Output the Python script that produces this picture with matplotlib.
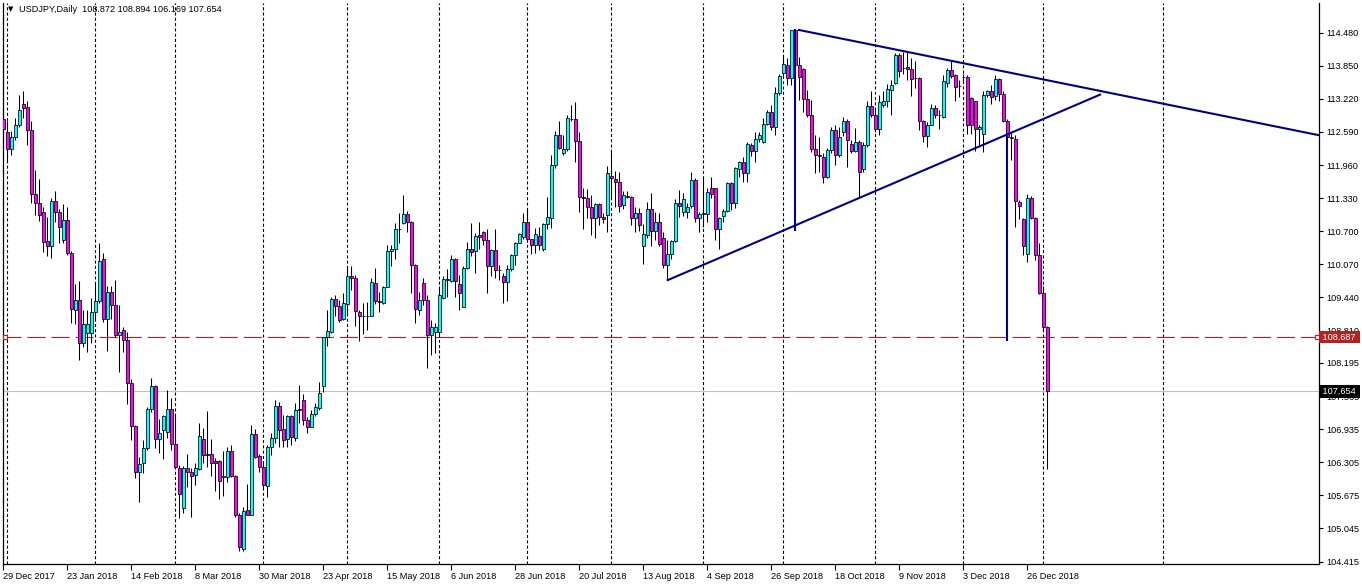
import matplotlib
matplotlib.use("Agg")
import matplotlib.pyplot as plt
import matplotlib.transforms as mtransforms
import numpy as np

# USDJPY daily candles, one per bar (bar 0 = 29 Dec 2017)
opens = [
    112.83, 112.58, 112.26, 112.49, 112.72, 113.13, 113.06, 112.62, 111.40, 111.23,
    111.06, 110.51, 110.41, 111.27, 111.07, 110.53, 110.91, 110.28, 109.20, 109.39,
    108.57, 108.76, 108.76, 109.16, 109.37, 110.17, 109.04, 109.54, 109.29, 108.72,
    108.83, 108.63, 107.81, 106.99, 106.11, 106.30, 106.57, 107.31, 107.75, 106.74,
    106.91, 106.89, 107.31, 106.65, 106.20, 105.43, 106.19, 106.11, 106.06, 106.17,
    106.74, 106.46, 106.46, 106.33, 106.33, 106.02, 106.02, 106.51, 106.05, 105.30,
    104.65, 105.39, 105.31, 106.84, 106.42, 106.21, 105.86, 106.59, 106.76, 107.38,
    106.93, 106.74, 107.19, 106.76, 107.32, 107.49, 107.10, 106.98, 107.22, 107.33,
    107.76, 108.68, 108.79, 109.42, 109.28, 109.04, 109.31, 109.84, 109.82, 109.16,
    109.09, 109.08, 109.09, 109.71, 109.37, 109.33, 109.63, 110.32, 110.37, 110.74,
    110.85, 111.02, 110.87, 110.05, 109.21, 109.71, 109.39, 108.73, 108.79, 108.78,
    109.43, 109.79, 109.75, 110.17, 109.69, 109.26, 110.01, 110.36, 110.32, 110.63,
    110.68, 110.53, 110.04, 110.34, 109.96, 109.85, 109.73, 109.99, 110.24, 110.47,
    110.60, 110.88, 110.55, 110.44, 110.61, 110.37, 110.83, 110.96, 111.97, 112.53,
    112.19, 112.26, 112.84, 112.83, 112.42, 111.36, 111.33, 111.17, 110.96, 111.21,
    110.98, 111.00, 111.76, 111.69, 111.63, 111.20, 111.38, 111.36, 110.96, 111.04,
    110.42, 110.62, 111.12, 110.71, 110.87, 110.58, 110.05, 110.26, 110.51, 111.24,
    111.06, 111.06, 111.18, 111.67, 110.95, 111.03, 111.02, 111.52, 111.52, 110.74,
    110.99, 111.09, 111.61, 111.23, 111.88, 112.01, 111.81, 112.34, 112.23, 112.46,
    112.40, 112.74, 112.96, 112.69, 113.34, 113.72, 113.86, 113.61, 114.52, 113.86,
    113.79, 113.22, 112.92, 112.26, 112.15, 112.12, 111.74, 112.25, 112.63, 112.15,
    112.58, 112.79, 112.36, 112.23, 112.39, 111.88, 112.34, 113.08, 112.91, 112.64,
    113.10, 113.18, 113.39, 113.53, 114.05, 113.81, 113.82, 113.78, 113.61, 113.62,
    112.79, 112.52, 112.73, 113.04, 112.92, 112.88, 113.53, 113.77, 113.67, 113.47,
    113.63, 113.63, 113.23, 113.17, 112.64, 112.56, 113.30, 113.37, 113.27, 113.59,
    113.32, 112.80, 112.49, 112.45, 111.26, 110.93, 110.26, 111.34, 110.96, 110.25,
    109.52, 108.872,
]
highs = [
    112.94, 112.79, 112.60, 112.85, 113.29, 113.37, 113.17, 112.79, 111.87, 111.70,
    111.17, 110.98, 111.33, 111.47, 111.12, 111.21, 111.16, 110.33, 109.69, 109.75,
    109.20, 109.20, 109.43, 109.74, 110.47, 110.28, 109.65, 109.65, 109.77, 109.30,
    108.87, 108.78, 107.89, 107.01, 106.41, 106.73, 107.36, 107.90, 107.77, 107.12,
    107.20, 107.68, 107.52, 107.20, 106.25, 106.24, 106.46, 106.20, 106.30, 107.05,
    106.96, 107.28, 106.75, 106.39, 106.35, 106.52, 106.59, 106.63, 106.06, 105.33,
    105.46, 105.89, 107.01, 106.93, 106.47, 106.32, 106.63, 106.86, 107.49, 107.46,
    107.20, 107.20, 107.21, 107.43, 107.77, 107.60, 107.17, 107.30, 107.43, 107.84,
    108.69, 109.20, 109.44, 109.49, 109.39, 109.53, 110.01, 110.03, 109.87, 109.20,
    109.33, 109.35, 109.82, 110.01, 109.55, 109.65, 110.44, 110.43, 110.86, 111.05,
    111.39, 111.08, 110.90, 110.07, 109.55, 109.82, 109.48, 109.01, 108.95, 109.65,
    109.84, 109.99, 110.25, 110.20, 109.86, 110.03, 110.50, 110.85, 110.66, 110.88,
    110.71, 110.74, 110.37, 110.74, 110.06, 109.90, 110.06, 110.27, 110.50, 110.67,
    111.05, 111.12, 110.56, 110.76, 110.79, 110.85, 111.36, 112.16, 112.61, 112.80,
    112.53, 112.91, 113.11, 113.16, 112.59, 111.53, 111.50, 111.39, 111.23, 111.23,
    111.04, 111.95, 112.21, 111.85, 111.83, 111.47, 111.47, 111.38, 111.17, 111.15,
    110.83, 111.26, 111.42, 111.06, 111.04, 110.69, 110.53, 110.53, 111.31, 111.48,
    111.42, 111.23, 111.83, 111.72, 111.07, 111.74, 111.53, 111.74, 111.53, 110.98,
    111.12, 111.64, 111.63, 111.93, 112.04, 112.12, 112.39, 112.37, 112.58, 112.58,
    112.85, 113.01, 113.11, 113.45, 113.69, 114.05, 113.99, 114.53, 114.55, 114.02,
    113.80, 113.39, 113.20, 112.53, 112.50, 112.18, 112.28, 112.69, 112.72, 112.69,
    112.88, 112.83, 112.44, 112.66, 112.44, 112.40, 113.17, 113.36, 113.01, 113.29,
    113.36, 113.50, 113.58, 114.09, 114.09, 114.12, 114.12, 113.99, 113.93, 113.64,
    112.82, 112.78, 113.13, 113.10, 113.01, 113.67, 113.81, 113.96, 113.69, 113.58,
    113.70, 113.67, 113.26, 113.18, 112.72, 113.36, 113.39, 113.48, 113.67, 113.62,
    113.36, 112.83, 112.59, 112.53, 111.29, 110.96, 111.40, 111.38, 110.98, 110.47,
    109.65, 108.894,
]
lows = [
    112.44, 112.02, 112.15, 112.44, 112.69, 112.86, 112.34, 111.23, 111.01, 110.90,
    110.31, 110.22, 110.19, 110.88, 110.47, 110.47, 110.24, 108.95, 108.93, 108.25,
    108.49, 108.40, 108.57, 109.04, 109.33, 108.98, 108.43, 109.04, 108.68, 108.03,
    108.41, 107.41, 106.73, 106.01, 105.54, 106.10, 106.54, 107.27, 106.58, 106.49,
    106.36, 106.77, 106.54, 106.19, 105.24, 105.33, 105.84, 105.27, 105.88, 106.15,
    106.30, 106.22, 106.05, 105.76, 105.60, 105.67, 105.92, 106.03, 105.26, 104.62,
    104.62, 105.30, 105.30, 106.38, 106.11, 105.81, 105.65, 106.45, 106.67, 106.60,
    106.60, 106.60, 106.64, 106.70, 107.05, 107.01, 106.87, 106.97, 107.18, 107.30,
    107.65, 108.52, 108.77, 109.08, 108.97, 109.01, 109.14, 109.58, 108.90, 108.62,
    108.74, 108.82, 109.09, 109.31, 109.16, 109.31, 109.63, 110.04, 110.18, 110.47,
    110.83, 110.69, 109.53, 108.95, 109.11, 109.30, 108.09, 108.35, 108.38, 108.69,
    109.41, 109.45, 109.74, 109.45, 109.20, 109.26, 109.99, 110.22, 109.90, 110.36,
    110.44, 109.53, 109.85, 109.82, 109.77, 109.34, 109.37, 109.95, 110.06, 110.47,
    110.55, 110.50, 110.26, 110.28, 110.34, 110.33, 110.74, 110.76, 111.90, 112.26,
    112.16, 112.23, 112.79, 112.02, 111.07, 110.74, 110.95, 110.63, 110.57, 110.82,
    110.86, 110.69, 111.34, 111.17, 111.07, 111.12, 111.33, 110.82, 110.69, 110.70,
    110.08, 110.57, 110.41, 110.53, 110.41, 110.01, 109.77, 110.17, 110.50, 110.98,
    110.99, 110.95, 111.15, 110.88, 110.68, 110.79, 110.88, 111.33, 110.53, 110.37,
    110.88, 111.06, 111.10, 111.14, 111.74, 111.64, 111.64, 112.14, 112.02, 112.40,
    112.37, 112.72, 112.63, 112.53, 113.29, 113.65, 113.48, 113.48, 113.82, 113.20,
    112.97, 112.88, 112.21, 111.81, 111.83, 111.61, 111.71, 112.18, 111.96, 112.12,
    112.52, 111.93, 112.18, 112.21, 111.36, 111.83, 112.31, 112.88, 112.59, 112.53,
    113.07, 113.07, 112.91, 113.51, 113.64, 113.70, 113.58, 113.28, 113.42, 112.63,
    112.40, 112.30, 112.72, 112.86, 112.65, 112.86, 113.45, 113.61, 113.17, 113.26,
    113.55, 112.56, 112.56, 112.23, 112.34, 112.21, 113.26, 113.13, 113.20, 113.17,
    112.78, 112.47, 112.06, 110.79, 110.93, 110.25, 110.12, 110.94, 110.15, 109.50,
    108.84, 106.169,
]
closes = [
    112.65, 112.26, 112.49, 112.72, 113.00, 113.05, 112.62, 111.40, 111.23, 111.00,
    110.49, 110.41, 111.27, 111.07, 110.79, 110.91, 110.28, 109.22, 109.39, 108.57,
    108.93, 108.93, 109.16, 109.37, 110.13, 109.04, 109.54, 109.29, 108.72, 108.78,
    108.63, 107.81, 106.99, 106.11, 106.27, 106.57, 107.31, 107.75, 106.74, 106.87,
    107.18, 107.31, 106.65, 106.21, 105.71, 106.19, 106.11, 106.05, 106.19, 106.80,
    106.44, 106.44, 106.30, 106.30, 105.94, 106.04, 106.51, 106.05, 105.30, 104.70,
    105.38, 105.31, 106.84, 106.41, 106.22, 105.87, 106.60, 106.76, 107.38, 106.91,
    106.73, 107.18, 106.79, 107.30, 107.29, 107.11, 106.98, 107.22, 107.35, 107.62,
    108.68, 108.80, 109.42, 109.28, 109.02, 109.33, 109.84, 109.82, 109.18, 109.09,
    109.08, 109.09, 109.73, 109.37, 109.35, 109.63, 110.32, 110.37, 110.74, 110.75,
    111.02, 110.87, 110.05, 109.23, 109.39, 109.39, 108.73, 108.88, 108.88, 109.48,
    109.80, 109.77, 110.17, 109.76, 109.52, 110.01, 110.36, 110.31, 110.61, 110.60,
    110.53, 110.04, 110.34, 109.96, 109.96, 109.73, 109.99, 110.24, 110.48, 110.65,
    110.88, 110.55, 110.44, 110.64, 110.43, 110.83, 110.97, 111.97, 112.53, 112.29,
    112.26, 112.85, 112.83, 112.42, 111.36, 111.33, 111.17, 110.95, 111.21, 110.98,
    110.93, 111.80, 111.71, 111.63, 111.19, 111.39, 111.36, 110.95, 111.04, 110.82,
    110.64, 111.12, 110.71, 110.87, 110.45, 110.05, 110.26, 110.52, 111.24, 111.19,
    111.31, 111.17, 111.67, 110.95, 111.02, 111.04, 111.44, 111.40, 110.74, 110.96,
    111.09, 111.61, 111.23, 111.91, 112.01, 111.81, 112.36, 112.23, 112.46, 112.53,
    112.75, 112.96, 112.69, 113.34, 113.66, 113.89, 113.61, 114.52, 113.86, 113.64,
    113.22, 112.92, 112.26, 112.15, 112.14, 111.74, 112.25, 112.63, 112.16, 112.50,
    112.79, 112.44, 112.23, 112.39, 111.83, 112.34, 113.08, 112.91, 112.64, 113.15,
    113.18, 113.41, 113.48, 114.05, 113.74, 113.81, 113.78, 113.59, 113.61, 112.79,
    112.52, 112.73, 113.04, 112.91, 112.92, 113.56, 113.77, 113.66, 113.45, 113.47,
    113.63, 112.73, 112.72, 112.64, 112.69, 113.30, 113.36, 113.26, 113.59, 113.32,
    112.80, 112.50, 112.47, 111.28, 111.18, 110.41, 111.34, 110.96, 110.25, 109.52,
    108.87, 107.654,
]

date_labels = ["29 Dec 2017", "23 Jan 2018", "14 Feb 2018", "8 Mar 2018", "30 Mar 2018",
               "23 Apr 2018", "15 May 2018", "6 Jun 2018", "28 Jun 2018", "20 Jul 2018",
               "13 Aug 2018", "4 Sep 2018", "26 Sep 2018", "18 Oct 2018", "9 Nov 2018",
               "3 Dec 2018", "26 Dec 2018"]
label_bars = list(range(0, 257, 16))
month_bars = [1, 23, 43, 65, 86, 109, 131, 152, 175, 195, 218, 240, 260, 290]

price_ticks = [114.480, 113.850, 113.220, 112.590, 111.960, 111.330, 110.700, 110.070,
               109.440, 108.810, 108.195, 107.565, 106.935, 106.305, 105.675, 105.045, 104.415]
price_labels = ["%.3f" % p for p in price_ticks]

title = "USDJPY,Daily  108.872 108.894 106.169 107.654"
hline_price = 108.687
bid_price = 107.654

# drawn objects: (bar, price) anchors
upper_line = [(198.9, 114.53), (274.2, 113.37)]   # ray to the right
lower_line = [(166.1, 109.77), (274.2, 113.30)]
vertical_lines = [(197.9, 110.72, 114.52), (250.9, 108.63, 112.50)]

BULL = "#00FFFF"
BEAR = "#FF00FF"
NAVY = "#00008B"
RED = "#B22222"

plt.rcParams["font.family"] = ["Liberation Sans", "DejaVu Sans"]
plt.rcParams["lines.scale_dashes"] = False

W, H = 1362, 585
fig = plt.figure(figsize=(W / 100, H / 100), dpi=100)
ax = fig.add_axes([3 / W, 21 / H, 1316 / W, 561 / H])
x_min, x_max = -0.075, 328.925
ax.set_xlim(x_min, x_max)
ax.set_ylim(104.369, 115.043)

o = np.array(opens)
h = np.array(highs)
l = np.array(lows)
c = np.array(closes)
x = np.arange(len(o))

# month separators
for b in month_bars:
    ax.axvline(b, color="black", lw=0.8, linestyle=(0, (2.2, 1.6)), zorder=1)

# candles
ax.vlines(x, l, h, color="black", lw=0.75, zorder=3)
body_col = np.where(c > o, BULL, np.where(c < o, BEAR, "black"))
ax.bar(x, np.abs(c - o), bottom=np.minimum(o, c), width=0.72, color=body_col,
       edgecolor="black", linewidth=0.55, zorder=4)

# horizontal line object and bid line
ax.axhline(hline_price, color=RED, lw=0.8, linestyle=(0, (13, 4.3)), zorder=2)
ax.plot([0.5, 328.4], [hline_price, hline_price], "s", ms=3, mfc="white", mec=RED,
        mew=0.8, zorder=5, clip_on=False)
ax.axhline(bid_price, color="#C0C0C0", lw=0.8, zorder=2)

# trend lines
(x1, y1), (x2, y2) = upper_line
slope = (y2 - y1) / (x2 - x1)
ax.plot([x1, x_max], [y1, y1 + slope * (x_max - x1)], color=NAVY, lw=1.5, zorder=6)
ax.plot(*zip(*lower_line), color=NAVY, lw=1.5, zorder=6)
for vx, vlo, vhi in vertical_lines:
    ax.plot([vx, vx], [vlo, vhi], color=NAVY, lw=1.5, zorder=6)

# axes look
ax.spines["top"].set_visible(False)
for side in ["left", "right", "bottom"]:
    ax.spines[side].set_linewidth(0.9)

ax.yaxis.tick_right()
ax.set_yticks(price_ticks)
ax.set_yticklabels(price_labels)
ax.tick_params(axis="y", direction="out", length=3, width=0.8, pad=2, labelsize=6.6,
               colors="black")
ax.set_xticks(label_bars)
ax.set_xticklabels(date_labels, ha="left")
ax.tick_params(axis="x", direction="out", length=4, width=0.8, pad=2, labelsize=6.6)

# price boxes on the right scale (they cover the tick labels, as in the terminal)
trans = mtransforms.blended_transform_factory(ax.transAxes, ax.transData)
tx = 1320.5 / 1316 - 3 / 1316
ax.text(tx, hline_price, " %.3f " % hline_price, transform=trans, fontsize=6.6,
        color="white", va="center", ha="left", zorder=10, clip_on=False,
        bbox=dict(boxstyle="square,pad=0.2", fc=RED, ec="none"))
ax.text(tx, bid_price, " %.3f " % bid_price, transform=trans, fontsize=6.6,
        color="white", va="center", ha="left", zorder=10, clip_on=False,
        bbox=dict(boxstyle="square,pad=0.2", fc="black", ec="none"))

fig.text(8 / W, 1 - 9 / H, "\u25BC", fontsize=5, va="center", ha="left",
         family=["DejaVu Sans"])
fig.text(19 / W, 1 - 9 / H, title, fontsize=6.6, va="center", ha="left")

fig.savefig("out.png", dpi=100)
